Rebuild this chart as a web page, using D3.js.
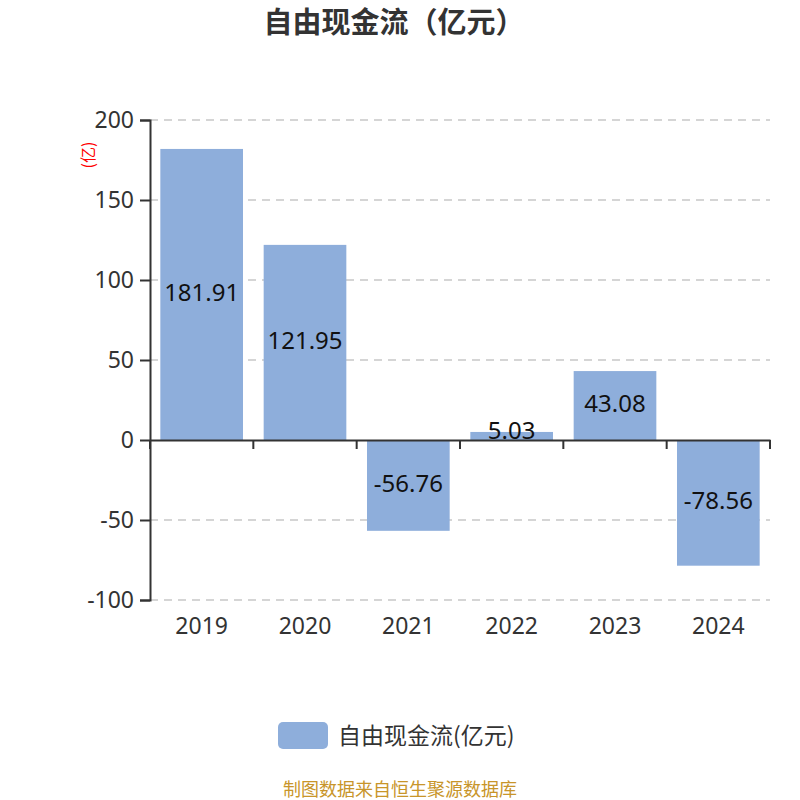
<!DOCTYPE html>
<html>
<head>
<meta charset="utf-8">
<script src="https://cdn.jsdelivr.net/npm/d3@7"></script>
<style>
  body { margin: 0; background: #fff; }
  text { font-family: "Noto Sans CJK SC", "Noto Sans", sans-serif; }
</style>
</head>
<body>
<svg id="canvas" width="800" height="800"></svg>
<script>
let years = ["2019", "2020", "2021", "2022", "2023", "2024"];
let cashFlow = [181.91, 121.95, -56.76, 5.03, 43.08, -78.56];
let yTicks = [-100, -50, 0, 50, 100, 150, 200];

let barColor = "#8eaedb";
let canvas = d3.select("#canvas");

let margin = { left: 150, right: 30, top: 120, bottom: 200 };
let width = 800 - margin.left - margin.right;
let height = 800 - margin.top - margin.bottom;

let xScale = d3.scaleBand()
    .domain(years)
    .range([margin.left, margin.left + width])
    .paddingInner(0.2)
    .paddingOuter(0.1);

let yScale = d3.scaleLinear()
    .domain([-100, 200])
    .range([margin.top + height, margin.top]);

// title
canvas.append("text")
    .attr("x", 394)
    .attr("y", 33)
    .attr("text-anchor", "middle")
    .style("font-size", "29px")
    .style("font-weight", "bold")
    .style("fill", "#333")
    .text("自由现金流（亿元）");

// grid lines
canvas.append("g")
    .selectAll("line")
    .data(yTicks.filter(d => d !== 0))
    .enter()
    .append("line")
    .attr("x1", margin.left)
    .attr("x2", margin.left + width)
    .attr("y1", d => yScale(d))
    .attr("y2", d => yScale(d))
    .attr("stroke", "#c8c8c8")
    .attr("stroke-width", 1.5)
    .attr("stroke-dasharray", "8,6");

// bars
canvas.append("g")
    .selectAll("rect")
    .data(cashFlow)
    .enter()
    .append("rect")
    .attr("x", (d, i) => xScale(years[i]))
    .attr("width", xScale.bandwidth())
    .attr("y", d => yScale(Math.max(d, 0)))
    .attr("height", d => Math.abs(yScale(d) - yScale(0)))
    .attr("fill", barColor);

// bar labels
canvas.append("g")
    .selectAll("text")
    .data(cashFlow)
    .enter()
    .append("text")
    .attr("x", (d, i) => xScale(years[i]) + xScale.bandwidth() / 2)
    .attr("y", d => d > 0 && d < 10 ? yScale(0) - 9 : (yScale(d) + yScale(0)) / 2 - 2)
    .attr("dy", "0.35em")
    .attr("text-anchor", "middle")
    .style("font-size", "24px")
    .style("fill", "#111")
    .style("font-family", "'Noto Sans', sans-serif")
    .text(d => d.toFixed(2));

// y axis
let yAxis = canvas.append("g")
    .attr("transform", "translate(" + margin.left + ",0)")
    .call(d3.axisLeft(yScale).tickValues(yTicks).tickFormat(d => String(d)).tickSize(10).tickPadding(6));
yAxis.select(".domain").attr("stroke", "#333").attr("stroke-width", 2);
yAxis.selectAll(".tick line").attr("stroke", "#333").attr("stroke-width", 2);
yAxis.selectAll(".tick text")
    .style("font-size", "23px")
    .style("fill", "#333")
    .style("font-family", "'Noto Sans', sans-serif");

// x axis at zero
let xAxis = canvas.append("g")
    .attr("transform", "translate(0," + yScale(0) + ")")
    .call(d3.axisBottom(xScale).tickSize(0).tickPadding(0));
xAxis.select(".domain").attr("stroke", "#333").attr("stroke-width", 2);
xAxis.selectAll(".tick text").remove();

// x ticks at band edges
let edges = years.map(y => xScale(y) - xScale.step() * xScale.paddingInner() / 2);
edges.push(margin.left + width);
canvas.append("g")
    .selectAll("line")
    .data(edges)
    .enter()
    .append("line")
    .attr("x1", d => d)
    .attr("x2", d => d)
    .attr("y1", yScale(0))
    .attr("y2", yScale(0) + 9)
    .attr("stroke", "#333")
    .attr("stroke-width", 2);

// x labels at the bottom
canvas.append("g")
    .selectAll("text")
    .data(years)
    .enter()
    .append("text")
    .attr("x", d => xScale(d) + xScale.bandwidth() / 2)
    .attr("y", yScale(-100) + 34)
    .attr("text-anchor", "middle")
    .style("font-size", "23px")
    .style("fill", "#333")
    .style("font-family", "'Noto Sans', sans-serif")
    .text(d => d);

// y unit label
canvas.append("text")
    .attr("transform", "translate(88,155) rotate(-90)")
    .attr("text-anchor", "middle")
    .attr("dy", "0.35em")
    .style("font-size", "16px")
    .style("fill", "red")
    .text("(亿)");

// legend
canvas.append("rect")
    .attr("x", 278)
    .attr("y", 722)
    .attr("width", 50)
    .attr("height", 27)
    .attr("rx", 5)
    .attr("fill", barColor);
canvas.append("text")
    .attr("x", 338)
    .attr("y", 744)
    .style("font-size", "23px")
    .style("fill", "#333")
    .text("自由现金流(亿元)");

// source
canvas.append("text")
    .attr("x", 400)
    .attr("y", 796)
    .attr("text-anchor", "middle")
    .style("font-size", "18px")
    .style("fill", "#c8952a")
    .text("制图数据来自恒生聚源数据库");
</script>
</body>
</html>
